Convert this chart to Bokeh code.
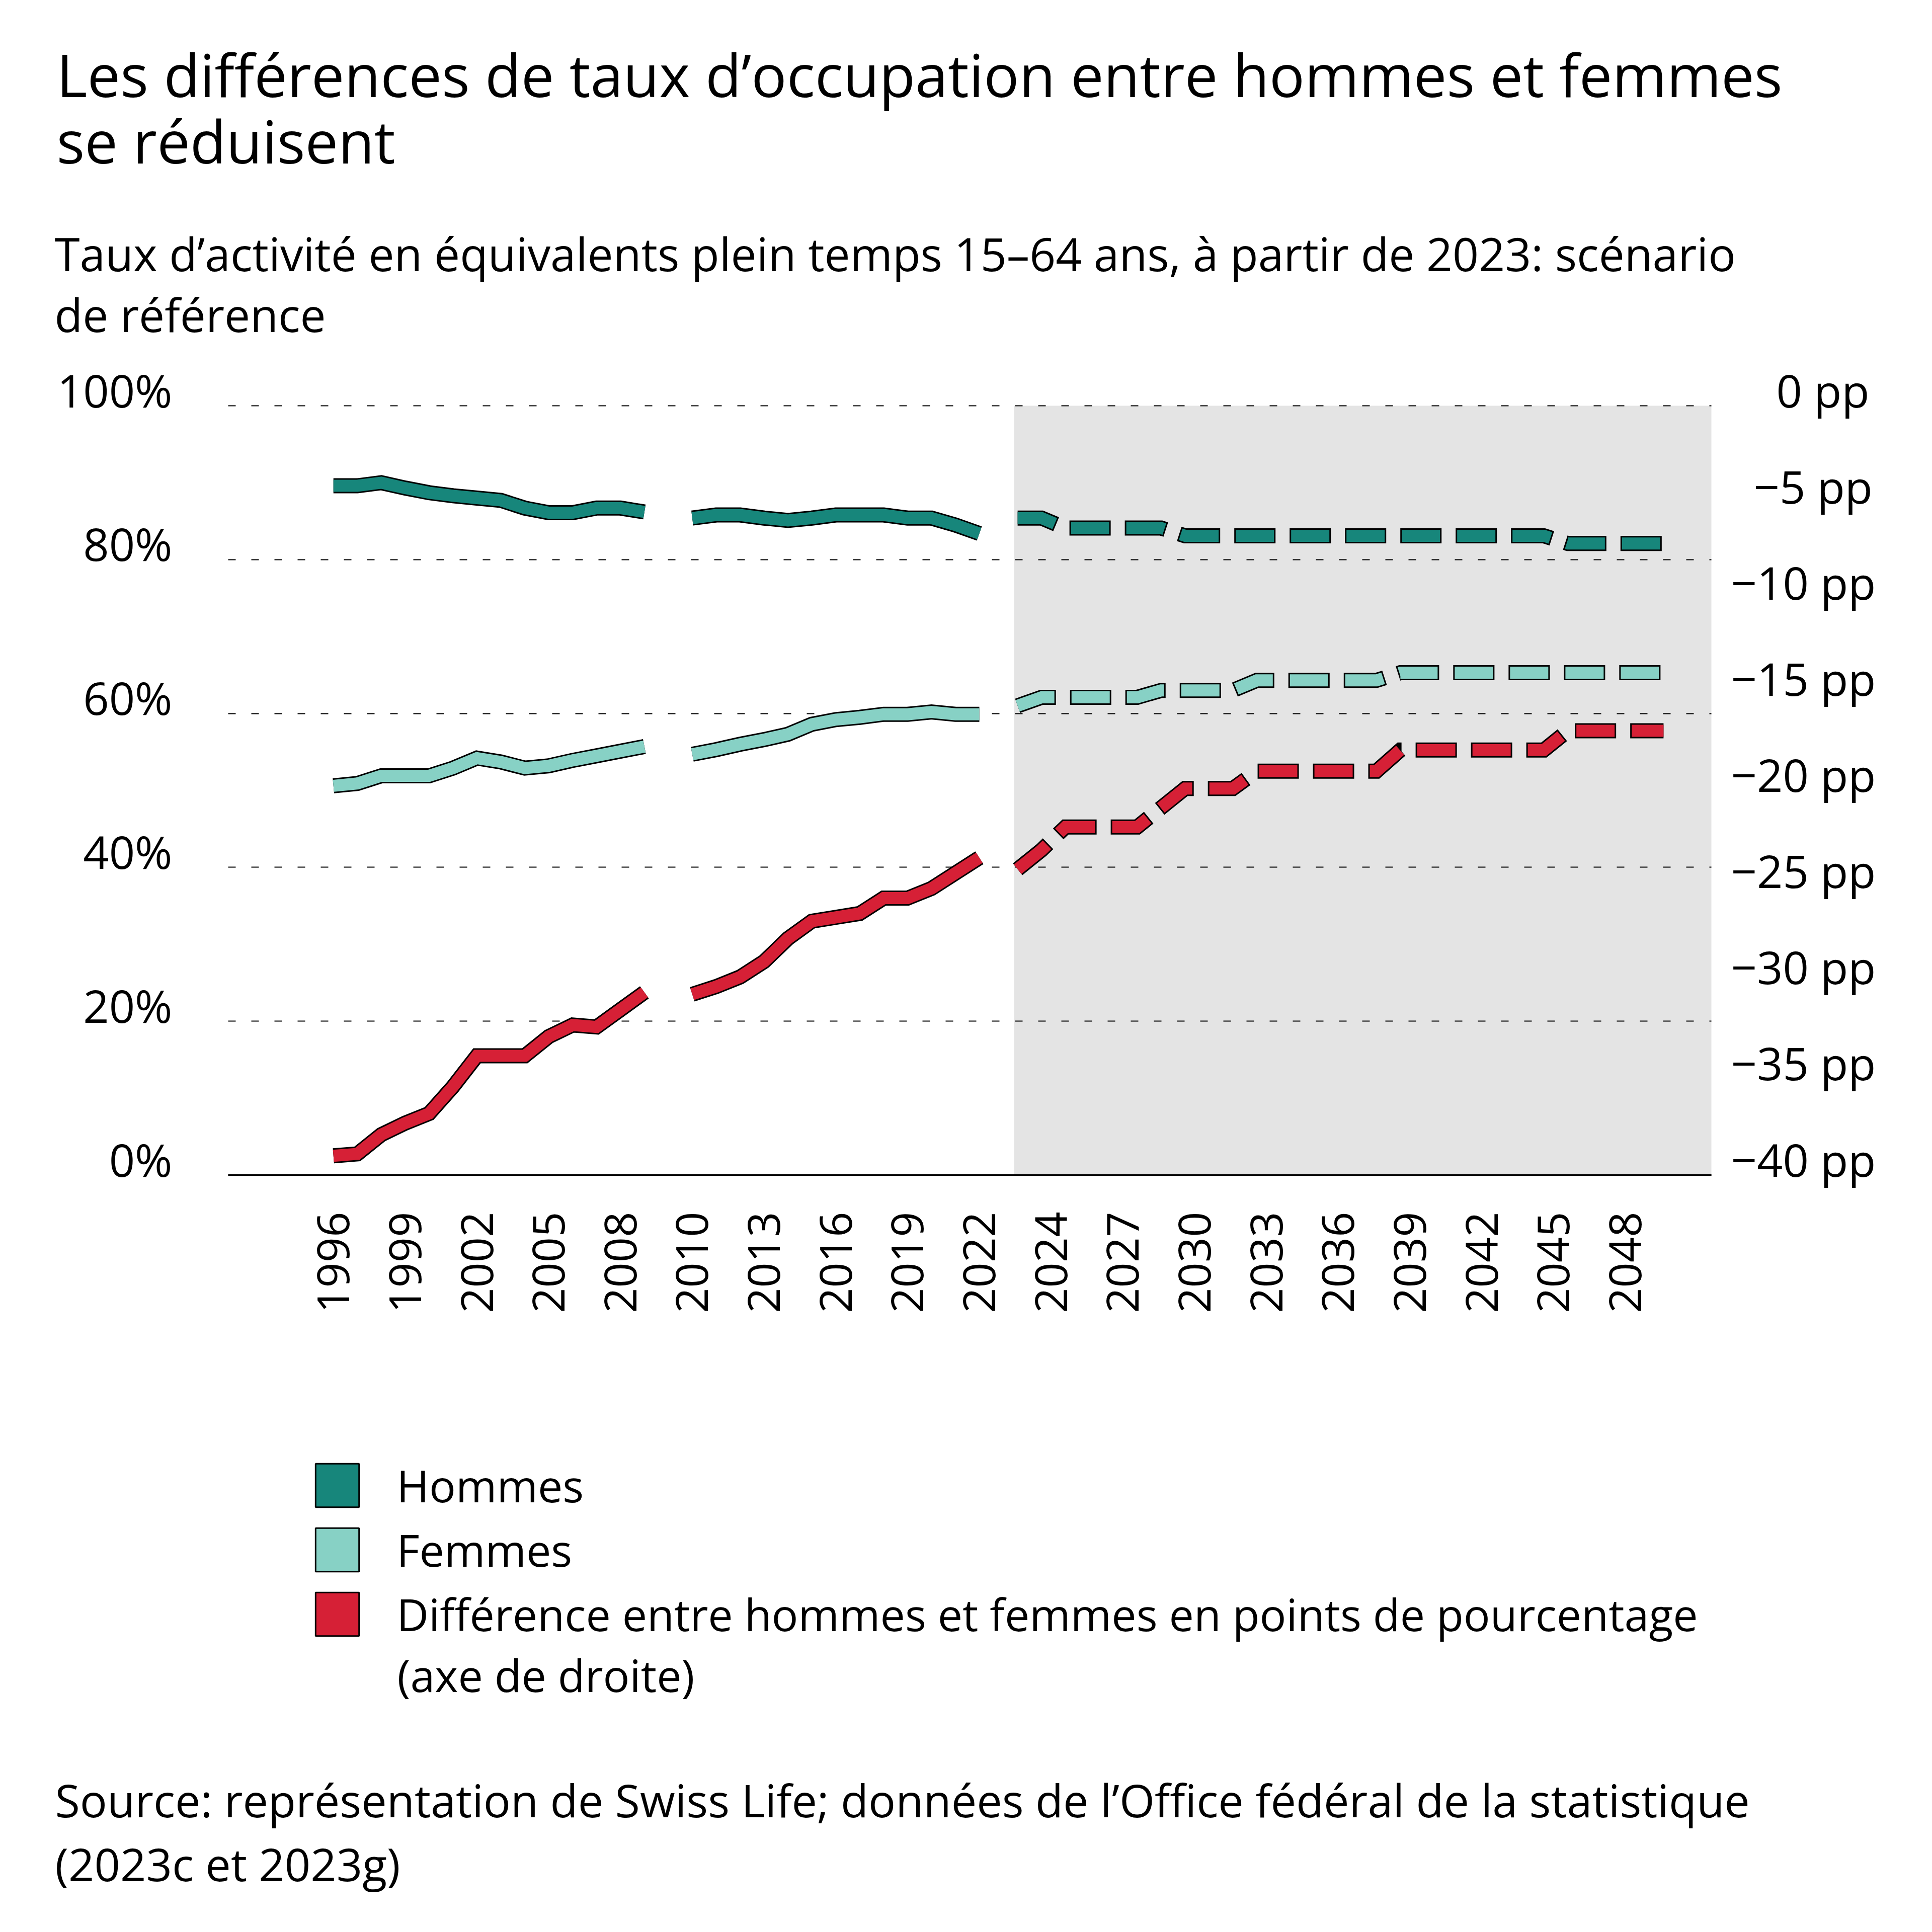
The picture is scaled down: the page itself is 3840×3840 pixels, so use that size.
import math
from bokeh.plotting import figure
from bokeh.models import (Range1d, LinearAxis, FixedTicker, Grid, BoxAnnotation,
                          Label, Legend, LegendItem)
from bokeh.embed import file_html
from bokeh.resources import INLINE

FONT = "Open Sans"

# ---------------- data ----------------
years_a = list(range(1996, 2010))          # 1996-2009
years_b = list(range(2010, 2023))          # 2010-2022
years_fc = list(range(2023, 2051))         # scenario 2023-2050

hommes_hist = [89.6, 89.6, 90.0, 89.3, 88.7, 88.3, 88.0, 87.7, 86.7, 86.1, 86.1, 86.7, 86.7, 86.2,
               85.4, 85.8, 85.8, 85.4, 85.1, 85.4, 85.8, 85.8, 85.8, 85.4, 85.4, 84.5, 83.4]
femmes_hist = [50.6, 50.9, 51.9, 51.9, 51.9, 52.9, 54.2, 53.7, 52.9, 53.2, 53.9, 54.5, 55.1, 55.7,
               54.7, 55.3, 56.0, 56.6, 57.3, 58.6, 59.2, 59.5, 59.9, 59.9, 60.2, 59.9, 59.9]
diff_hist = [-39.0, -38.9, -37.9, -37.3, -36.8, -35.4, -33.8, -33.8, -33.8, -32.8, -32.2, -32.3, -31.4, -30.5,
             -30.6, -30.2, -29.7, -28.9, -27.7, -26.8, -26.6, -26.4, -25.6, -25.6, -25.1, -24.3, -23.5]

hommes_fc = [85.4, 85.4, 84.1, 84.1, 84.1, 84.1, 84.1,
             83.1, 83.1, 83.1, 83.1, 83.1, 83.1, 83.1, 83.1, 83.1, 83.1, 83.1, 83.1, 83.1, 83.1, 83.1, 83.1,
             82.1, 82.1, 82.1, 82.1, 82.1]
femmes_fc = [61.0, 62.1, 62.1, 62.1, 62.1, 62.1, 63.0, 63.0, 63.0, 63.0,
             64.3, 64.3, 64.3, 64.3, 64.3, 64.3,
             65.3, 65.3, 65.3, 65.3, 65.3, 65.3, 65.3, 65.3, 65.3, 65.3, 65.3, 65.3]
diff_fc = [-24.1, -23.1, -21.9, -21.9, -21.9, -21.9, -20.9, -19.9, -19.9, -19.9,
           -19.0, -19.0, -19.0, -19.0, -19.0, -19.0,
           -17.9, -17.9, -17.9, -17.9, -17.9, -17.9, -17.9,
           -16.9, -16.9, -16.9, -16.9, -16.9]

tick_labels = ["1996", "1999", "2002", "2005", "2008", "2010", "2013", "2016", "2019", "2022",
               "2024", "2027", "2030", "2033", "2036", "2039", "2042", "2045", "2048"]
pct_ticks = [0, 20, 40, 60, 80, 100]
pp_ticks = [-40, -35, -30, -25, -20, -15, -10, -5, 0]

series_names = ["Hommes", "Femmes",
                "Différence entre hommes et femmes en points de pourcentage"]
legend_note = "(axe de droite)"
colors = ["#17867B", "#87D1C5", "#D62036"]

title_lines = ["Les différences de taux d’occupation entre hommes et femmes", "se réduisent"]
subtitle_lines = ["Taux d’activité en équivalents plein temps 15–64 ans, à partir de 2023: scénario",
                  "de référence"]
source_lines = ["Source: représentation de Swiss Life; données de l’Office fédéral de la statistique",
                "(2023c et 2023g)"]

# ---------------- layout constants (canvas px) ----------------
W = H = 3840
FL, FR = 453, 3401            # plot area left/right
GRID_TOP, FB = 806, 2335      # 100% line and 0% line
XMIN, XMAX = -4.4, 57.6       # plot area in slot units
PX_X = (FR - FL) / (XMAX - XMIN)
PX_Y = (FB - GRID_TOP) / 100.0
LIFT = 32 / PX_Y              # tick labels sit a little above their line
FC_SHIFT = -0.4               # scenario line drawn slightly left of its slot
SHADE_START = 28.45
BASELINE_FIX = 0.37           # label baseline correction (fraction of font size)

y0 = -(H - FB) / PX_Y
y1 = 100 + GRID_TOP / PX_Y


def slot(year):
    s = year - 1996
    if year >= 2010:
        s += 1
    if year >= 2023:
        s += 1
    return s


p = figure(width=W, height=H, output_backend="svg", toolbar_location=None, title=None,
           x_range=Range1d(XMIN - FL / PX_X, XMAX + (W - FR) / PX_X),
           y_range=Range1d(y0, y1), y_axis_location=None, min_border=0)
p.outline_line_color = None
p.background_fill_color = "white"
p.border_fill_color = "white"
for g in p.grid:
    g.visible = False

p.extra_y_ranges = {
    "pp": Range1d(y0 / 2.5 - 40, y1 / 2.5 - 40),
    "ylab": Range1d(y0 - LIFT, y1 - LIFT),
    "pplab": Range1d((y0 - LIFT) / 2.5 - 40, (y1 - LIFT) / 2.5 - 40),
    "cy": Range1d(H, 0),
}
p.extra_x_ranges = {"cx": Range1d(0, W)}

# scenario shading
p.add_layout(BoxAnnotation(left=SHADE_START, right=XMAX, bottom=0, top=100,
                           fill_color="#E4E4E4", fill_alpha=1.0, line_color=None, level="underlay"))

# horizontal dotted grid limited to the plot area
grid = Grid(dimension=1, ticker=FixedTicker(ticks=pct_ticks), grid_line_color="black",
            grid_line_width=2, grid_line_dash="15 31", level="underlay")
try:
    grid.cross_bounds = (XMIN, XMAX)
    p.add_layout(grid)
except Exception:
    p.segment(x0=[XMIN] * len(pct_ticks), x1=[XMAX] * len(pct_ticks), y0=pct_ticks, y1=pct_ticks,
              line_color="black", line_width=2, line_dash="15 31", level="underlay")

# x axis
xa = p.xaxis[0]
tick_pos = [slot(int(t)) for t in tick_labels]
xa.fixed_location = 0
xa.bounds = (XMIN, XMAX)
xa.ticker = FixedTicker(ticks=tick_pos)
xa.major_label_overrides = {tp: lab for tp, lab in zip(tick_pos, tick_labels)}
xa.major_label_orientation = math.pi / 2
xa.major_tick_line_color = None
xa.minor_tick_line_color = None
xa.major_tick_out = 0
xa.axis_line_width = 3
xa.axis_line_color = "black"
xa.major_label_standoff = 73
xa.major_label_text_font = FONT
xa.major_label_text_font_size = "88px"
xa.major_label_text_color = "black"

# y axes
la = LinearAxis(y_range_name="ylab", ticker=FixedTicker(ticks=pct_ticks),
                fixed_location=XMIN, bounds=(0, 100))
la.major_label_overrides = {t: f"{t}%" for t in pct_ticks}
ra = LinearAxis(y_range_name="pplab", ticker=FixedTicker(ticks=pp_ticks),
                fixed_location=XMAX, bounds=(-40, 0))


def pp_label(v):
    s = "0" if v == 0 else "\u2212" + str(abs(v))
    pad = 3 - len(s)
    return "\u2002" * pad + s + " pp"


ra.major_label_overrides = {t: pp_label(t) for t in pp_ticks}
for ax, standoff in ((la, 111), (ra, 39)):
    ax.axis_line_color = None
    ax.major_tick_line_color = None
    ax.minor_tick_line_color = None
    ax.major_tick_out = 0
    ax.major_label_standoff = standoff
    ax.major_label_text_font = FONT
    ax.major_label_text_font_size = "90px"
    ax.major_label_text_color = "black"
p.add_layout(la, "left")
p.add_layout(ra, "right")


def outlined(xs, ys, color, dashed, range_name=None):
    kw = {"y_range_name": range_name} if range_name else {}
    if dashed:
        p.line(xs, ys, line_color="black", line_width=30, line_dash="82 28",
               line_dash_offset=3, line_join="miter", line_cap="butt", **kw)
        p.line(xs, ys, line_color=color, line_width=24, line_dash="76 34",
               line_join="miter", line_cap="butt", **kw)
    else:
        p.line(xs, ys, line_color="black", line_width=30, line_join="miter", line_cap="butt", **kw)
        p.line(xs, ys, line_color=color, line_width=24, line_join="miter", line_cap="butt", **kw)


xa_pos = [slot(y) for y in years_a]
xb_pos = [slot(y) for y in years_b]
xf_pos = [slot(y) + FC_SHIFT for y in years_fc]
na = len(years_a)

for vals_h, vals_f, col, rn in ((hommes_hist, hommes_fc, colors[0], None),
                                (femmes_hist, femmes_fc, colors[1], None),
                                (diff_hist, diff_fc, colors[2], "pp")):
    outlined(xa_pos, vals_h[:na], col, False, rn)
    outlined(xb_pos, vals_h[na:], col, False, rn)
    outlined(xf_pos, vals_f, col, True, rn)

# legend (swatch renderers hold one point placed off-canvas, only their legend glyph shows)
items = []
for name, col in zip(series_names, colors):
    r = p.quad(left=[-200], right=[-100], top=[-100], bottom=[-200],
               x_range_name="cx", y_range_name="cy",
               fill_color=col, line_color="black", line_width=3)
    items.append(LegendItem(label=name, renderers=[r]))
GLYPH = 108                   # legend swatch is drawn at 80% of this
LEG_LEFT = 627 - GLYPH * 0.1
LEG_TOP = 2892
ITEM_H = 120
LEG_SP = 8
leg_h = 3 * ITEM_H + 2 * LEG_SP
legend = Legend(items=items, location=(LEG_LEFT, H - (LEG_TOP + leg_h)), orientation="vertical",
                glyph_width=GLYPH, glyph_height=GLYPH, label_standoff=int(789 - LEG_LEFT - GLYPH),
                spacing=LEG_SP, padding=0, margin=0,
                border_line_color=None, background_fill_alpha=0,
                label_text_font=FONT, label_text_font_size="88px", label_text_color="black",
                label_height=88)
p.add_layout(legend)


def add_text(txt, X, Ybase, size):
    p.add_layout(Label(x=X, y=Ybase - BASELINE_FIX * size, x_range_name="cx", y_range_name="cy",
                       text=txt, text_font=FONT, text_font_size=f"{size}px", text_color="black",
                       text_baseline="alphabetic", text_align="left"))


add_text(title_lines[0], 112, 190, 117)
add_text(title_lines[1], 112, 322, 117)
add_text(subtitle_lines[0], 108, 537, 91)
add_text(subtitle_lines[1], 108, 658, 91)
add_text(legend_note, 789, 3361, 88)
add_text(source_lines[0], 109, 3610, 90)
add_text(source_lines[1], 109, 3737, 90)

open("out.html", "w").write(file_html(p, INLINE))
